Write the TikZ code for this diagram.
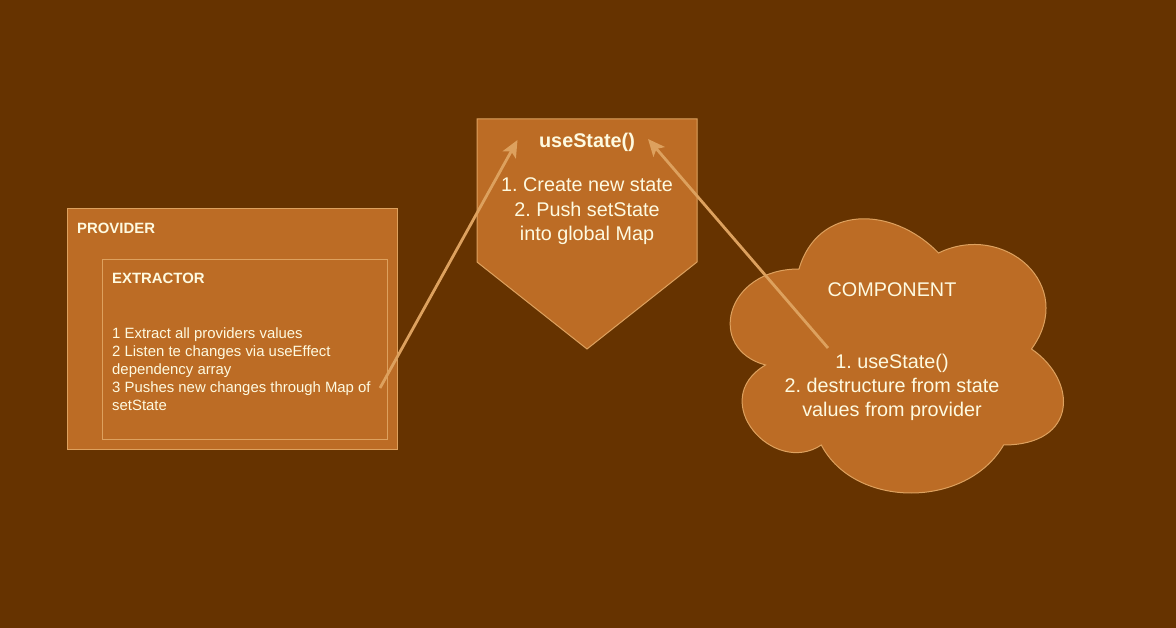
\documentclass[tikz,border=0pt]{standalone}
\usepackage{fontspec}
\setmainfont{Liberation Sans}
\frenchspacing
\usetikzlibrary{arrows.meta}
\definecolor{bgc}{RGB}{102,51,0}
\definecolor{fillc}{RGB}{188,108,37}
\definecolor{strokec}{RGB}{221,161,94}
\definecolor{txtc}{RGB}{254,250,224}
\tikzset{
  shapebox/.style={fill=fillc, draw=strokec, line width=1pt},
  innerbox/.style={draw=strokec, line width=0.8pt},
  big/.style={text=txtc, font=\fontsize{19.8}{24.5}\selectfont, inner sep=0pt, anchor=base},
  bigb/.style={big, font=\fontsize{19.8}{24.5}\selectfont\bfseries},
  small/.style={text=txtc, font=\fontsize{14.9}{18}\selectfont, inner sep=0pt, anchor=base west},
  smallb/.style={small, font=\fontsize{14.9}{18}\selectfont\bfseries},
  conn/.style={draw=strokec, line width=2.8pt, -{Stealth[length=17pt,width=15pt,inset=4pt]}}
}
\begin{document}
\begin{tikzpicture}[x=1pt,y=-1pt]
\fill[bgc] (0,0) rectangle (1176,628);
\useasboundingbox (0,0) rectangle (1176,628);

% PROVIDER
\draw[shapebox] (67,209) rectangle (397,449);
\node[smallb] (prov) at (77,233.3) {PROVIDER};
\draw[innerbox] (102,259) rectangle (387,439);
\node[smallb] (extr) at (112,284) {EXTRACTOR};
\node[small] (e1) at (112,338.3) {1 Extract all providers values};
\node[small] (e2) at (112,356.3) {2 Listen te changes via useEffect};
\node[small] (e3) at (112,374.3) {dependency array};
\node[small] (e4) at (112,392.3) {3 Pushes new changes through Map of};
\node[small] (e5) at (112,410.3) {setState};

% useState pentagon
\draw[shapebox] (477,119) -- (697,119) -- (697,262) -- (587,349) -- (477,262) -- cycle;
\node[bigb] (us) at (587,147.3) {useState()};
\node[big] (u1) at (587,192) {1. Create new state};
\node[big] (u2) at (587,216.5) {2. Push setState};
\node[big] (u3) at (587,241) {into global Map};

% COMPONENT cloud
\draw[shapebox] (799,269)
  .. controls (724.6,269) and (706,349) .. (765.5,365)
  .. controls (706,400.2) and (773,477) .. (821.3,445)
  .. controls (854.8,509) and (966.4,509) .. (1003.6,445)
  .. controls (1078,445) and (1078,381) .. (1031.5,349)
  .. controls (1078,285) and (1003.6,221) .. (938.5,253)
  .. controls (892,205) and (817.6,205) .. (799,269) -- cycle;
\node[big] (comp) at (892,296.7) {COMPONENT};
\node[big] (c1) at (892,368.3) {1. useState()};
\node[big] (c2) at (892,392.7) {2. destructure from state};
\node[big] (c3) at (892,416.7) {values from provider};

% connectors
\coordinate (a1s) at (380,388);
\coordinate (a1e) at (517.5,140);
\coordinate (a2s) at (828,348);
\coordinate (a2e) at (648,139);
\draw[conn] (a1s) -- (a1e);
\draw[conn] (a2s) -- (a2e);
\end{tikzpicture}
\end{document}
